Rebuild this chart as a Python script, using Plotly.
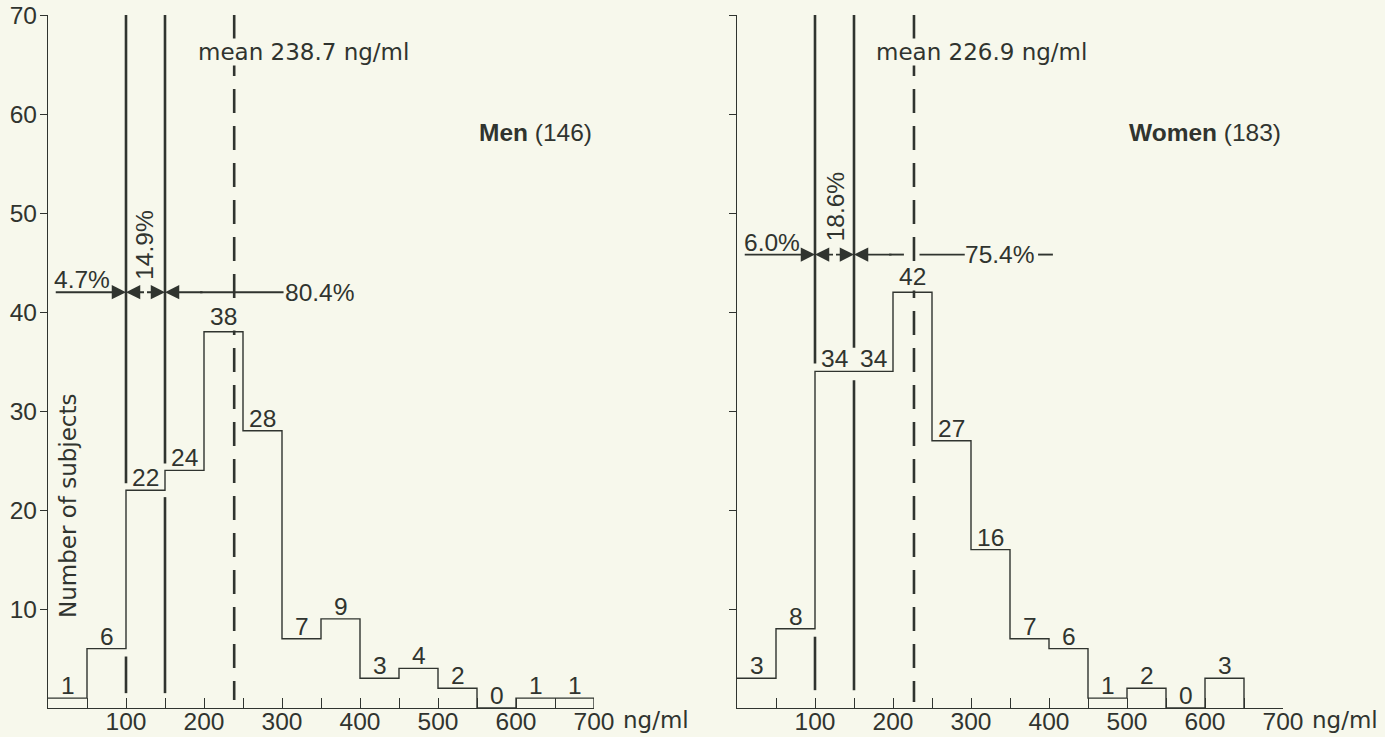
import plotly.graph_objects as go

# ---- data -------------------------------------------------------------
bin_starts = [0, 50, 100, 150, 200, 250, 300, 350, 400, 450, 500, 550, 600, 650]
bin_width = 50
men_counts = [1, 6, 22, 24, 38, 28, 7, 9, 3, 4, 2, 0, 1, 1]
women_counts = [3, 8, 34, 34, 42, 27, 16, 7, 6, 1, 2, 0, 3]

cutoffs = [100, 150]
men_mean = 238.7
women_mean = 226.9
men_pct = ["4.7%", "14.9%", "80.4%"]
women_pct = ["6.0%", "18.6%", "75.4%"]
men_label = ("Men", 146)
women_label = ("Women", 183)

x_tickvals = [50, 100, 150, 200, 250, 300, 350, 400, 450, 500, 550, 600, 650, 700]
x_ticktext = ["", "100", "", "200", "", "300", "", "400", "", "500", "", "600", "", "700"]
y_tickvals = [10, 20, 30, 40, 50, 60, 70]
y_ticktext = ["10", "20", "30", "40", "50", "60", "70"]

# ---- styling ----------------------------------------------------------
INK = "#30342f"
BG = "#f7f8ec"
NUM_FONT = "Liberation Sans, Arial, sans-serif"
TXT_FONT = "DejaVu Sans, sans-serif"
FS = 24.5
FS_TXT = 23
W, H = 1385, 737


def outline(counts):
    """Histogram contour as a step line."""
    xs = [bin_starts[i] for i in range(len(counts))]
    ys = list(counts)
    xs.append(bin_starts[len(counts) - 1] + bin_width)
    ys.append(counts[-1])
    xs.append(bin_starts[len(counts) - 1] + bin_width)
    ys.append(0)
    return xs, ys


fig = go.Figure()

for counts, xa, ya in [(men_counts, "x", "y"), (women_counts, "x2", "y2")]:
    xs, ys = outline(counts)
    fig.add_trace(go.Scatter(
        x=xs, y=ys, mode="lines", line=dict(color=INK, width=1.4, shape="hv"),
        xaxis=xa, yaxis=ya, showlegend=False, hoverinfo="skip", cliponaxis=False,
    ))

annotations = []
shapes = []
num_font = dict(size=FS, color=INK, family=NUM_FONT)
txt_font = dict(size=FS_TXT, color=INK, family=TXT_FONT)

# bin counts above each bar; the label in the bin holding the mean masks the dashed line
for counts, mean, xa, ya in [(men_counts, men_mean, "x", "y"),
                             (women_counts, women_mean, "x2", "y2")]:
    for s, c in zip(bin_starts, counts):
        on_mean = s <= mean < s + bin_width
        ann = dict(x=s + bin_width / 2, y=c, xref=xa, yref=ya, text=str(c),
                   showarrow=False, yanchor="bottom", font=num_font)
        if on_mean:
            ann.update(bgcolor=BG, borderpad=0, yshift=1)
        else:
            ann.update(yshift=-3)
        annotations.append(ann)


def vline(xa, ya, x, y0, y1, width=2.6, dash="solid"):
    shapes.append(dict(type="line", xref=xa, yref=ya, x0=x, x1=x, y0=y0, y1=y1,
                       line=dict(color=INK, width=width, dash=dash), layer="above"))


def hline(xa, ya, x0, x1, y, width=1.9):
    shapes.append(dict(type="line", xref=xa, yref=ya, x0=x0, x1=x1, y0=y, y1=y,
                       line=dict(color=INK, width=width), layer="above"))


def arrow(xa, ya, x_head, x_tail, y):
    annotations.append(dict(
        x=x_head, y=y, ax=x_tail, ay=y, xref=xa, yref=ya, axref=xa, ayref=ya,
        text="", showarrow=True, arrowhead=2, arrowsize=1.5, arrowwidth=1.9,
        arrowcolor=INK, standoff=0, startstandoff=0,
    ))


# cut-off lines (broken where they meet the histogram steps)
vline("x", "y", cutoffs[0], 70, 22.7)
vline("x", "y", cutoffs[0], 5.2, 1.5)
vline("x", "y", cutoffs[1], 70, 24.7)
vline("x", "y", cutoffs[1], 21.3, 1.5)
vline("x2", "y2", cutoffs[0], 70, 34.8)
vline("x2", "y2", cutoffs[0], 7.2, 1.8)
vline("x2", "y2", cutoffs[1], 70, 36.4)
vline("x2", "y2", cutoffs[1], 33.1, 1.8)

# mean lines
vline("x", "y", men_mean, 70, 0.8, width=2.6, dash="24px,13px")
vline("x2", "y2", women_mean, 70, 0.6, width=2.6, dash="24px,13px")

# percentage arrows — men
y_m = 42.0
arrow("x", "y", cutoffs[0], 8, y_m)
arrow("x", "y", cutoffs[0], 125, y_m)
arrow("x", "y", cutoffs[1], 125, y_m)
arrow("x", "y", cutoffs[1], 200, y_m)
hline("x", "y", 195, 302, y_m)
annotations.append(dict(x=5, y=y_m, xref="x", yref="y", text=men_pct[0], showarrow=False,
                        xanchor="left", yanchor="bottom", yshift=-3, font=num_font))
annotations.append(dict(x=124.5, y=46.7, xref="x", yref="y", text=men_pct[1], showarrow=False,
                        textangle=-90, font=num_font))
annotations.append(dict(x=301, y=y_m, xref="x", yref="y", text=men_pct[2], showarrow=False,
                        xanchor="left", font=num_font))

# percentage arrows — women
y_w = 45.8
arrow("x2", "y2", cutoffs[0], 8, y_w)
arrow("x2", "y2", cutoffs[0], 125, y_w)
arrow("x2", "y2", cutoffs[1], 125, y_w)
arrow("x2", "y2", cutoffs[1], 200, y_w)
hline("x2", "y2", 195, 214, y_w)
hline("x2", "y2", 234, 292, y_w)
hline("x2", "y2", 386, 405, y_w)
annotations.append(dict(x=6, y=y_w, xref="x2", yref="y2", text=women_pct[0], showarrow=False,
                        xanchor="left", yanchor="bottom", yshift=-3, font=num_font))
annotations.append(dict(x=126, y=50.6, xref="x2", yref="y2", text=women_pct[1], showarrow=False,
                        textangle=-90, font=num_font))
annotations.append(dict(x=290, y=y_w, xref="x2", yref="y2", text=women_pct[2], showarrow=False,
                        xanchor="left", font=num_font))

# mean captions (background hides the dashed line behind the text)
for xa, ya, m, xl in [("x", "y", men_mean, 191), ("x2", "y2", women_mean, 177)]:
    annotations.append(dict(x=xl, y=66.3, xref=xa, yref=ya,
                            text=f"mean {m} ng/ml", showarrow=False, xanchor="left",
                            bgcolor=BG, borderpad=0, font=txt_font))

# group labels
for xa, ya, (name, n) in [("x", "y", men_label), ("x2", "y2", women_label)]:
    annotations.append(dict(x=700, y=58.1, xref=xa, yref=ya,
                            text=f"<b>{name}</b> ({n})", showarrow=False, xanchor="right",
                            font=num_font))

# unit after last tick label (placed in axis-domain units, beyond the range)
for xa, ya in [("x domain", "y domain"), ("x2 domain", "y2 domain")]:
    annotations.append(dict(x=734 / 700, y=-12 / 693, xref=xa, yref=ya, text="ng/ml",
                            showarrow=False, xanchor="left", yanchor="middle", font=txt_font))

# y-axis title inside the left panel
annotations.append(dict(x=25.6, y=20.5, xref="x", yref="y", text="Number of subjects",
                        showarrow=False, textangle=-90, font=txt_font))

x_common = dict(range=[0, 700], showgrid=False, zeroline=False, showline=True,
                linecolor=INK, linewidth=1.4, ticks="inside", ticklen=10, tickwidth=1.3,
                tickcolor=INK, tickvals=x_tickvals, ticktext=x_ticktext,
                ticklabelstandoff=-9,
                tickfont=num_font, fixedrange=True, automargin=False)
y_common = dict(range=[0, 70], showgrid=False, zeroline=False, showline=True,
                linecolor=INK, linewidth=1.4, ticks="outside", ticklen=7, tickwidth=1.3,
                tickcolor=INK, tickvals=y_tickvals, ticklabelstandoff=-2,
                tickfont=num_font, fixedrange=True, automargin=False)

y_dom = [(H - 708) / H, (H - 15) / H]
fig.update_layout(
    width=W, height=H, autosize=False, margin=dict(l=0, r=0, t=0, b=0, pad=0),
    paper_bgcolor=BG, plot_bgcolor=BG, showlegend=False,
    font=dict(family=NUM_FONT, color=INK, size=FS),
    xaxis=dict(domain=[48 / W, 594 / W], anchor="y", **x_common),
    yaxis=dict(domain=y_dom, anchor="x", ticktext=y_ticktext, **y_common),
    xaxis2=dict(domain=[737 / W, 1283 / W], anchor="y2", **x_common),
    yaxis2=dict(domain=y_dom, anchor="x2", showticklabels=False, **y_common),
    annotations=annotations, shapes=shapes,
)

fig.write_html("out.html", config={"displayModeBar": False})
